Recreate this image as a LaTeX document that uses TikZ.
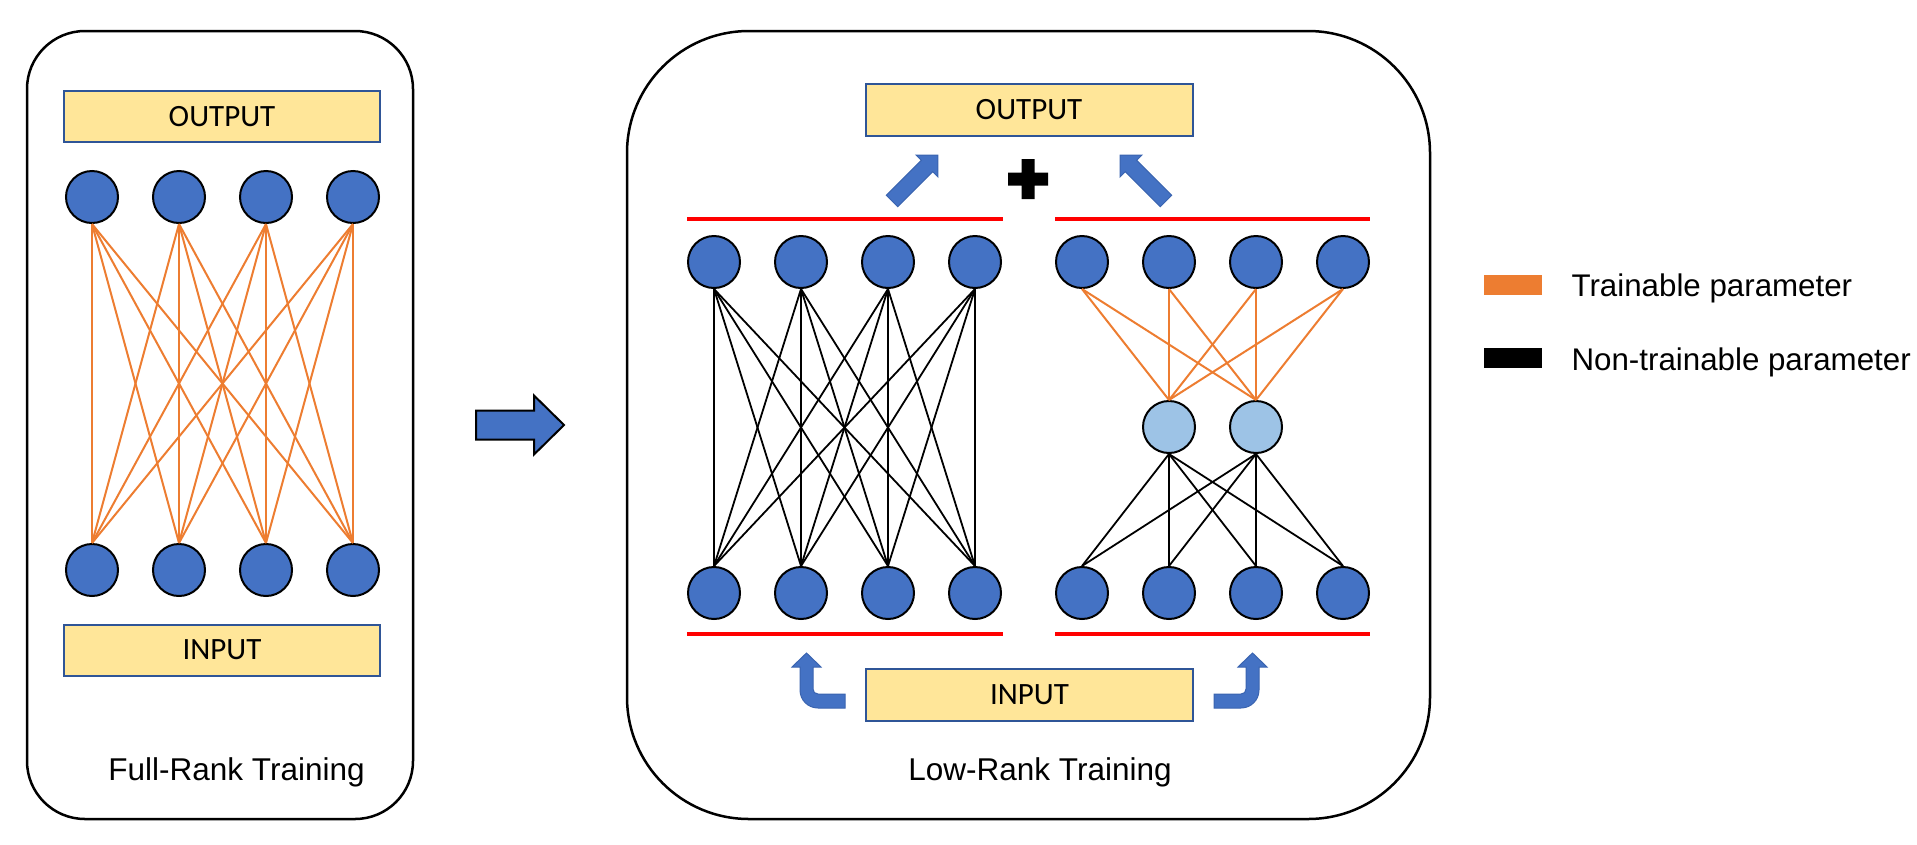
\documentclass[tikz,border=0pt]{standalone}
\usepackage{fontspec}
\setmainfont{Liberation Sans}
\newfontfamily\calibrifont{Carlito}
\usetikzlibrary{positioning}
\definecolor{neuronblue}{HTML}{4472C4}
\definecolor{rankblue}{HTML}{9DC3E6}
\definecolor{layeryellow}{HTML}{FFE699}
\definecolor{layerborder}{HTML}{2F5597}
\definecolor{trainorange}{HTML}{ED7D31}
\definecolor{arrowedge}{HTML}{3A64B0}

\tikzset{
  neuron/.style={circle, draw=black, line width=2pt, fill=neuronblue, minimum size=52pt, inner sep=0pt},
  rankneuron/.style={neuron, fill=rankblue},
  layerbox/.style={draw=layerborder, line width=2pt, fill=layeryellow, inner sep=0pt,
    minimum height=51pt, font=\calibrifont\fontsize{31}{36}\selectfont},
  trainable/.style={trainorange, line width=2pt},
  frozen/.style={black, line width=1.8pt},
  panel/.style={draw=black, line width=2.5pt},
  redbar/.style={red, line width=4pt},
  blockarrow/.style={fill=neuronblue, draw=arrowedge, line width=1pt, line join=miter},
  caption/.style={anchor=base, font=\fontsize{31.5}{36}\selectfont},
  legendtext/.style={anchor=base west, font=\fontsize{31.3}{36}\selectfont}
}

\begin{document}
\begin{tikzpicture}[x=1pt, y=-1pt]
    \useasboundingbox (0,0) rectangle (1917,844);

    % Full-rank panel
    \draw[panel, rounded corners=58pt] (27,31) rectangle (413,819);
    \node[layerbox, minimum width=316pt] (fullout) at (222,116.5) {OUTPUT};
    \node[layerbox, minimum width=316pt] (fullin) at (222,650) {INPUT};
    \foreach \x [count=\i] in {92,179,266,353} {
        \node[neuron] (ft\i) at (\x,197) {};
        \node[neuron] (fb\i) at (\x,570) {};
    }
    \foreach \i in {1,...,4}
        \foreach \j in {1,...,4}
            \draw[trainable] (ft\i.south) -- (fb\j.north);
    \node[caption] (fullcap) at (236.5,780) {Full-Rank Training};

    % Arrow between the panels
    \draw[blockarrow, draw=black, line width=2pt, shift={(476,425)}]
        (0,-14.5) -- (58,-14.5) -- (58,-29.5) -- (88,0) -- (58,29.5) -- (58,14.5) -- (0,14.5) -- cycle;

    % Low-rank panel
    \draw[panel, rounded corners=122pt] (627,31) rectangle (1430,819);
    \node[layerbox, minimum width=327pt, minimum height=52pt] (lowout) at (1029,110) {OUTPUT};
    \node[layerbox, minimum width=327pt, minimum height=52pt] (lowin) at (1029.5,695) {INPUT};

    % Frozen weights
    \foreach \x [count=\i] in {714,801,888,975} {
        \node[neuron] (lt\i) at (\x,262) {};
        \node[neuron] (lb\i) at (\x,593) {};
    }
    \foreach \i in {1,...,4}
        \foreach \j in {1,...,4}
            \draw[frozen] (lt\i.south) -- (lb\j.north);

    % Low-rank adapter
    \foreach \x [count=\i] in {1082,1169,1256,1343} {
        \node[neuron] (rt\i) at (\x,262) {};
        \node[neuron] (rb\i) at (\x,593) {};
    }
    \node[rankneuron] (rm1) at (1169,427) {};
    \node[rankneuron] (rm2) at (1256,427) {};
    \foreach \i in {1,...,4}
        \foreach \k in {1,2} {
            \draw[trainable] (rt\i.south) -- (rm\k.north);
            \draw[frozen] (rm\k.south) -- (rb\i.north);
        }

    % Red layer bars
    \draw[redbar] (687,219) -- (1003,219);
    \draw[redbar] (1055,219) -- (1370,219);
    \draw[redbar] (687,634) -- (1003,634);
    \draw[redbar] (1055,634) -- (1370,634);

    % Arrows to the output and the plus
    \draw[blockarrow, shift={(892,201)}, rotate=45]
        (0,-8) -- (49.5,-8) -- (49.5,-15.5) -- (65,0) -- (49.5,15.5) -- (49.5,8) -- (0,8) -- cycle;
    \draw[blockarrow, shift={(1166,201)}, rotate=135]
        (0,-8) -- (49.5,-8) -- (49.5,-15.5) -- (65,0) -- (49.5,15.5) -- (49.5,8) -- (0,8) -- cycle;
    \fill[black, shift={(1028,179)}]
        (-6.5,-20) -- (6.5,-20) -- (6.5,-6.5) -- (20,-6.5) -- (20,6.5) -- (6.5,6.5) -- (6.5,20)
        -- (-6.5,20) -- (-6.5,6.5) -- (-20,6.5) -- (-20,-6.5) -- (-6.5,-6.5) -- cycle;

    % Bent arrows from the input
    \draw[blockarrow]
        (845,694) -- (818,694) .. controls (815,694) and (813,692) .. (813,689) -- (813,667)
        -- (821,667) -- (806.5,653) -- (792,667) -- (800,667) -- (800,690)
        .. controls (800,700) and (808,708) .. (818,708) -- (845,708) -- cycle;
    \draw[blockarrow, shift={(2059,0)}, xscale=-1]
        (845,694) -- (818,694) .. controls (815,694) and (813,692) .. (813,689) -- (813,667)
        -- (821,667) -- (806.5,653) -- (792,667) -- (800,667) -- (800,690)
        .. controls (800,700) and (808,708) .. (818,708) -- (845,708) -- cycle;

    \node[caption] (lowcap) at (1040,780) {Low-Rank Training};

    % Legend
    \fill[trainorange] (1484,275) rectangle (1542,295);
    \node[legendtext] (trainlabel) at (1568,296) {Trainable parameter};
    \fill[black] (1484,348) rectangle (1542,368);
    \node[legendtext] (frozenlabel) at (1568,370) {Non-trainable parameter};
\end{tikzpicture}
\end{document}
